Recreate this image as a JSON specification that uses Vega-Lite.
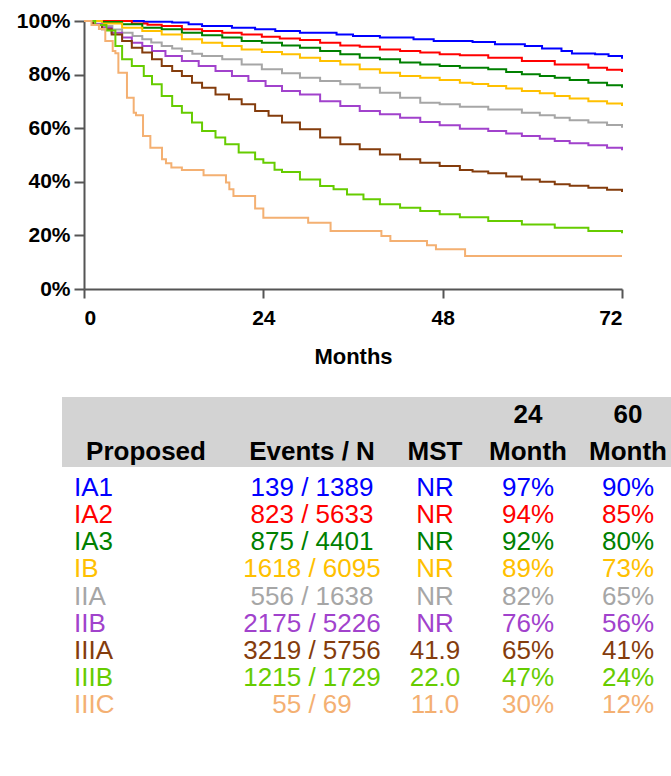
{
  "$schema": "https://vega.github.io/schema/vega-lite/v6.json",
  "padding": {"left": 16, "top": 10, "right": 0, "bottom": 0},
  "background": "white",
  "config": {"view": {"stroke": null}, "font": "Liberation Sans"},
  "datasets": {
    "km": [
      {"stage":"IA1","t":0,"s":100},{"stage":"IA1","t":6.4,"s":100},{"stage":"IA1","t":8,"s":99.7},{"stage":"IA1","t":11.8,"s":99.4},{"stage":"IA1","t":14,"s":98.8},{"stage":"IA1","t":15.8,"s":98.1},{"stage":"IA1","t":19.8,"s":97.5},{"stage":"IA1","t":22.9,"s":96.9},{"stage":"IA1","t":25.6,"s":96.3},{"stage":"IA1","t":28.9,"s":95.6},{"stage":"IA1","t":33.8,"s":95.0},{"stage":"IA1","t":36,"s":94.4},{"stage":"IA1","t":39.6,"s":93.8},{"stage":"IA1","t":44.1,"s":93.2},{"stage":"IA1","t":46.8,"s":92.5},{"stage":"IA1","t":52,"s":92.2},{"stage":"IA1","t":55,"s":91.3},{"stage":"IA1","t":59,"s":90.7},{"stage":"IA1","t":61.3,"s":89.7},{"stage":"IA1","t":63.9,"s":88.8},{"stage":"IA1","t":65.3,"s":87.9},{"stage":"IA1","t":68.4,"s":87.6},{"stage":"IA1","t":70.2,"s":86.9},{"stage":"IA1","t":72,"s":85.9},
      {"stage":"IA2","t":0,"s":100},{"stage":"IA2","t":3.7,"s":100},{"stage":"IA2","t":6.4,"s":99.1},{"stage":"IA2","t":8.5,"s":98.6},{"stage":"IA2","t":10.4,"s":98.1},{"stage":"IA2","t":13.1,"s":96.9},{"stage":"IA2","t":15.8,"s":96.3},{"stage":"IA2","t":18.5,"s":95.6},{"stage":"IA2","t":21.1,"s":95.0},{"stage":"IA2","t":23.8,"s":94.1},{"stage":"IA2","t":26.2,"s":93.5},{"stage":"IA2","t":28.9,"s":92.9},{"stage":"IA2","t":31.6,"s":91.9},{"stage":"IA2","t":34.3,"s":90.9},{"stage":"IA2","t":36.9,"s":90.4},{"stage":"IA2","t":39.6,"s":89.4},{"stage":"IA2","t":42.3,"s":88.8},{"stage":"IA2","t":45,"s":88.2},{"stage":"IA2","t":47.6,"s":87.6},{"stage":"IA2","t":50.3,"s":87.2},{"stage":"IA2","t":54.1,"s":86.3},{"stage":"IA2","t":58.6,"s":85.1},{"stage":"IA2","t":63,"s":83.8},{"stage":"IA2","t":67.5,"s":82.6},{"stage":"IA2","t":70,"s":81.8},{"stage":"IA2","t":72,"s":81.0},
      {"stage":"IA3","t":0,"s":100},{"stage":"IA3","t":2.4,"s":99.6},{"stage":"IA3","t":5.1,"s":98.8},{"stage":"IA3","t":7.8,"s":97.5},{"stage":"IA3","t":10.4,"s":96.9},{"stage":"IA3","t":13.1,"s":95.6},{"stage":"IA3","t":15.8,"s":94.7},{"stage":"IA3","t":18.5,"s":93.8},{"stage":"IA3","t":21.1,"s":92.5},{"stage":"IA3","t":23.8,"s":91.9},{"stage":"IA3","t":26.5,"s":90.9},{"stage":"IA3","t":28.9,"s":90.0},{"stage":"IA3","t":31.6,"s":88.8},{"stage":"IA3","t":34.3,"s":87.6},{"stage":"IA3","t":36.9,"s":86.3},{"stage":"IA3","t":39.6,"s":85.7},{"stage":"IA3","t":42.3,"s":84.5},{"stage":"IA3","t":45,"s":83.8},{"stage":"IA3","t":47.6,"s":83.2},{"stage":"IA3","t":50.3,"s":82.6},{"stage":"IA3","t":54.1,"s":82.0},{"stage":"IA3","t":56.5,"s":81.0},{"stage":"IA3","t":58.6,"s":80.1},{"stage":"IA3","t":61,"s":79.5},{"stage":"IA3","t":63,"s":78.8},{"stage":"IA3","t":65,"s":78.0},{"stage":"IA3","t":67.5,"s":77.0},{"stage":"IA3","t":70,"s":76.0},{"stage":"IA3","t":72,"s":75.1},
      {"stage":"IB","t":0,"s":100},{"stage":"IB","t":2.4,"s":99.1},{"stage":"IB","t":5.1,"s":97.5},{"stage":"IB","t":7.8,"s":96.3},{"stage":"IB","t":10.4,"s":95.0},{"stage":"IB","t":13.1,"s":93.2},{"stage":"IB","t":15.8,"s":91.9},{"stage":"IB","t":18.5,"s":90.7},{"stage":"IB","t":21.1,"s":89.4},{"stage":"IB","t":23.8,"s":88.4},{"stage":"IB","t":26.5,"s":87.6},{"stage":"IB","t":28.9,"s":86.3},{"stage":"IB","t":31.6,"s":85.1},{"stage":"IB","t":34.3,"s":83.8},{"stage":"IB","t":36.9,"s":82.0},{"stage":"IB","t":39.6,"s":80.7},{"stage":"IB","t":42.3,"s":79.5},{"stage":"IB","t":45,"s":78.8},{"stage":"IB","t":47.6,"s":78.0},{"stage":"IB","t":50.3,"s":77.0},{"stage":"IB","t":52,"s":76.5},{"stage":"IB","t":54.1,"s":75.7},{"stage":"IB","t":56.5,"s":74.8},{"stage":"IB","t":58.6,"s":73.9},{"stage":"IB","t":61,"s":73.0},{"stage":"IB","t":63,"s":72.0},{"stage":"IB","t":65,"s":71.1},{"stage":"IB","t":67.5,"s":70.1},{"stage":"IB","t":70,"s":69.2},{"stage":"IB","t":72,"s":68.3},
      {"stage":"IIA","t":0,"s":100},{"stage":"IIA","t":1.2,"s":99.0},{"stage":"IIA","t":2.4,"s":98.1},{"stage":"IIA","t":3.8,"s":96.8},{"stage":"IIA","t":5.1,"s":95.6},{"stage":"IIA","t":6.5,"s":94.4},{"stage":"IIA","t":7.8,"s":93.2},{"stage":"IIA","t":9,"s":92.0},{"stage":"IIA","t":10.4,"s":90.7},{"stage":"IIA","t":11.8,"s":89.7},{"stage":"IIA","t":13.1,"s":88.8},{"stage":"IIA","t":14.5,"s":87.8},{"stage":"IIA","t":15.8,"s":86.9},{"stage":"IIA","t":18.5,"s":85.7},{"stage":"IIA","t":21.1,"s":83.8},{"stage":"IIA","t":23.8,"s":82.0},{"stage":"IIA","t":26.5,"s":80.5},{"stage":"IIA","t":28.9,"s":78.8},{"stage":"IIA","t":31.6,"s":77.6},{"stage":"IIA","t":34.3,"s":76.4},{"stage":"IIA","t":36.9,"s":75.1},{"stage":"IIA","t":39.6,"s":73.2},{"stage":"IIA","t":42.3,"s":71.4},{"stage":"IIA","t":45,"s":69.5},{"stage":"IIA","t":47.6,"s":68.9},{"stage":"IIA","t":50.3,"s":68.0},{"stage":"IIA","t":54.1,"s":67.0},{"stage":"IIA","t":58.6,"s":65.8},{"stage":"IIA","t":61,"s":64.8},{"stage":"IIA","t":63,"s":63.9},{"stage":"IIA","t":65,"s":63.0},{"stage":"IIA","t":67.5,"s":62.1},{"stage":"IIA","t":70,"s":61.2},{"stage":"IIA","t":72,"s":60.2},
      {"stage":"IIB","t":0,"s":100},{"stage":"IIB","t":1.2,"s":98.8},{"stage":"IIB","t":2.4,"s":97.5},{"stage":"IIB","t":3.7,"s":95.6},{"stage":"IIB","t":5.1,"s":93.8},{"stage":"IIB","t":6.4,"s":91.9},{"stage":"IIB","t":7.8,"s":90.7},{"stage":"IIB","t":9.1,"s":88.8},{"stage":"IIB","t":10.9,"s":86.9},{"stage":"IIB","t":13.1,"s":85.1},{"stage":"IIB","t":15.35,"s":83.2},{"stage":"IIB","t":17.6,"s":81.3},{"stage":"IIB","t":19.8,"s":79.5},{"stage":"IIB","t":22,"s":77.6},{"stage":"IIB","t":24.3,"s":75.7},{"stage":"IIB","t":26.5,"s":73.9},{"stage":"IIB","t":28.9,"s":72.6},{"stage":"IIB","t":31.6,"s":70.1},{"stage":"IIB","t":34.3,"s":68.3},{"stage":"IIB","t":36.9,"s":66.4},{"stage":"IIB","t":39.6,"s":65.2},{"stage":"IIB","t":42.3,"s":63.9},{"stage":"IIB","t":45,"s":62.3},{"stage":"IIB","t":47.6,"s":61.1},{"stage":"IIB","t":50.3,"s":59.8},{"stage":"IIB","t":54.1,"s":59.0},{"stage":"IIB","t":56.5,"s":58.0},{"stage":"IIB","t":58.6,"s":57.1},{"stage":"IIB","t":61,"s":56.1},{"stage":"IIB","t":63,"s":55.2},{"stage":"IIB","t":65,"s":54.4},{"stage":"IIB","t":67.5,"s":53.6},{"stage":"IIB","t":70,"s":52.7},{"stage":"IIB","t":72,"s":51.8},
      {"stage":"IIIA","t":0,"s":100},{"stage":"IIIA","t":1.2,"s":98.5},{"stage":"IIIA","t":2.4,"s":96.9},{"stage":"IIIA","t":3.7,"s":95.0},{"stage":"IIIA","t":5.1,"s":92.5},{"stage":"IIIA","t":6.4,"s":90.0},{"stage":"IIIA","t":7.8,"s":88.2},{"stage":"IIIA","t":9.1,"s":85.7},{"stage":"IIIA","t":10.4,"s":83.2},{"stage":"IIIA","t":11.8,"s":81.3},{"stage":"IIIA","t":13.1,"s":79.5},{"stage":"IIIA","t":14.45,"s":77.0},{"stage":"IIIA","t":15.8,"s":75.1},{"stage":"IIIA","t":17.6,"s":72.6},{"stage":"IIIA","t":19.4,"s":70.8},{"stage":"IIIA","t":21.1,"s":68.9},{"stage":"IIIA","t":22.9,"s":66.4},{"stage":"IIIA","t":24.7,"s":64.6},{"stage":"IIIA","t":26.5,"s":62.1},{"stage":"IIIA","t":28.9,"s":59.6},{"stage":"IIIA","t":31.6,"s":56.5},{"stage":"IIIA","t":34.3,"s":54.0},{"stage":"IIIA","t":36.9,"s":52.1},{"stage":"IIIA","t":39.6,"s":50.2},{"stage":"IIIA","t":42.3,"s":48.4},{"stage":"IIIA","t":45,"s":47.1},{"stage":"IIIA","t":47.6,"s":45.9},{"stage":"IIIA","t":50.3,"s":44.4},{"stage":"IIIA","t":52,"s":43.8},{"stage":"IIIA","t":54.1,"s":43.2},{"stage":"IIIA","t":56.5,"s":42.0},{"stage":"IIIA","t":58.6,"s":40.9},{"stage":"IIIA","t":61,"s":40.0},{"stage":"IIIA","t":63,"s":39.1},{"stage":"IIIA","t":65,"s":38.5},{"stage":"IIIA","t":67.5,"s":37.8},{"stage":"IIIA","t":70,"s":37.0},{"stage":"IIIA","t":72,"s":36.2},
      {"stage":"IIIB","t":0,"s":100},{"stage":"IIIB","t":1.5,"s":98.5},{"stage":"IIIB","t":3,"s":96.5},{"stage":"IIIB","t":4.2,"s":90.7},{"stage":"IIIB","t":5.1,"s":85.7},{"stage":"IIIB","t":6.4,"s":83.2},{"stage":"IIIB","t":8,"s":79.5},{"stage":"IIIB","t":9.1,"s":76.4},{"stage":"IIIB","t":10.4,"s":72.0},{"stage":"IIIB","t":11.8,"s":68.3},{"stage":"IIIB","t":13.1,"s":65.8},{"stage":"IIIB","t":14.45,"s":62.1},{"stage":"IIIB","t":15.8,"s":59.0},{"stage":"IIIB","t":17.6,"s":56.5},{"stage":"IIIB","t":18.9,"s":54.0},{"stage":"IIIB","t":20.7,"s":50.9},{"stage":"IIIB","t":22.9,"s":48.4},{"stage":"IIIB","t":24,"s":47.1},{"stage":"IIIB","t":25.5,"s":44.5},{"stage":"IIIB","t":26.5,"s":43.7},{"stage":"IIIB","t":28.9,"s":40.9},{"stage":"IIIB","t":31.6,"s":38.4},{"stage":"IIIB","t":33.4,"s":37.2},{"stage":"IIIB","t":35.2,"s":35.3},{"stage":"IIIB","t":37.4,"s":33.5},{"stage":"IIIB","t":39.6,"s":31.6},{"stage":"IIIB","t":42.3,"s":30.3},{"stage":"IIIB","t":45,"s":29.1},{"stage":"IIIB","t":47.6,"s":27.9},{"stage":"IIIB","t":50.3,"s":26.8},{"stage":"IIIB","t":54.1,"s":25.4},{"stage":"IIIB","t":58.6,"s":24.1},{"stage":"IIIB","t":63,"s":22.9},{"stage":"IIIB","t":67.5,"s":21.6},{"stage":"IIIB","t":72,"s":20.8},
      {"stage":"IIIC","t":0,"s":100},{"stage":"IIIC","t":1,"s":98.5},{"stage":"IIIC","t":2,"s":97.0},{"stage":"IIIC","t":2.85,"s":92.5},{"stage":"IIIC","t":3.84,"s":88.8},{"stage":"IIIC","t":4.2,"s":88.0},{"stage":"IIIC","t":4.6,"s":80.7},{"stage":"IIIC","t":5.75,"s":71.4},{"stage":"IIIC","t":6.65,"s":65.8},{"stage":"IIIC","t":6.96,"s":64.8},{"stage":"IIIC","t":7.9,"s":57.1},{"stage":"IIIC","t":8.88,"s":52.7},{"stage":"IIIC","t":10.44,"s":48.4},{"stage":"IIIC","t":10.97,"s":46.9},{"stage":"IIIC","t":11.69,"s":45.3},{"stage":"IIIC","t":13.1,"s":44.4},{"stage":"IIIC","t":16.0,"s":42.4},{"stage":"IIIC","t":19.0,"s":39.7},{"stage":"IIIC","t":19.45,"s":37.2},{"stage":"IIIC","t":20.0,"s":34.7},{"stage":"IIIC","t":22.9,"s":30.0},{"stage":"IIIC","t":24.0,"s":26.6},{"stage":"IIIC","t":30.0,"s":24.7},{"stage":"IIIC","t":33.0,"s":21.6},{"stage":"IIIC","t":39.8,"s":19.8},{"stage":"IIIC","t":41.0,"s":17.9},{"stage":"IIIC","t":45.9,"s":16.3},{"stage":"IIIC","t":47.1,"s":14.8},{"stage":"IIIC","t":51.0,"s":12.3},{"stage":"IIIC","t":72,"s":12.3}
    ],
    "table": [
      {"stage":"IA1","events":"139 / 1389","mst":"NR","m24":"97%","m60":"90%"},
      {"stage":"IA2","events":"823 / 5633","mst":"NR","m24":"94%","m60":"85%"},
      {"stage":"IA3","events":"875 / 4401","mst":"NR","m24":"92%","m60":"80%"},
      {"stage":"IB","events":"1618 / 6095","mst":"NR","m24":"89%","m60":"73%"},
      {"stage":"IIA","events":"556 / 1638","mst":"NR","m24":"82%","m60":"65%"},
      {"stage":"IIB","events":"2175 / 5226","mst":"NR","m24":"76%","m60":"56%"},
      {"stage":"IIIA","events":"3219 / 5756","mst":"41.9","m24":"65%","m60":"41%"},
      {"stage":"IIIB","events":"1215 / 1729","mst":"22.0","m24":"47%","m60":"24%"},
      {"stage":"IIIC","events":"55 / 69","mst":"11.0","m24":"30%","m60":"12%"}
    ],
    "header": [
      {"col":"Proposed","line":2,"label":"Proposed"},
      {"col":"Events","line":2,"label":"Events / N"},
      {"col":"MST","line":2,"label":"MST"},
      {"col":"M24","line":1,"label":"24"},
      {"col":"M24","line":2,"label":"Month"},
      {"col":"M60","line":1,"label":"60"},
      {"col":"M60","line":2,"label":"Month"}
    ]
  },
  "spacing": 30,
  "vconcat": [
    {
      "spacing": 0,
      "bounds": "flush",
      "hconcat": [
        {"width": 22, "height": 10, "data": {"values": []}, "mark": {"type": "rect"}, "encoding": {}},
        {
          "width": 538,
          "height": 268,
          "data": {"name": "km"},
          "mark": {"type": "line", "interpolate": "step-after", "strokeWidth": 2},
          "encoding": {
            "x": {"field": "t", "type": "quantitative", "scale": {"domain": [0, 72], "nice": false},
              "axis": {"values": [0, 24, 48, 72], "title": "Months", "grid": false, "labelFontSize": 21, "labelFontWeight": "bold", "labelColor": "black", "tickSize": 9, "tickWidth": 2, "tickColor": "#555555", "domainColor": "#555555", "domainWidth": 2, "labelPadding": 9, "titleFontSize": 22, "titleFontWeight": "bold", "titleColor": "black", "titlePadding": 18}},
            "y": {"field": "s", "type": "quantitative", "scale": {"domain": [0, 100], "nice": false},
              "axis": {"values": [0, 20, 40, 60, 80, 100], "labelExpr": "datum.value + '%'", "title": null, "grid": false, "labelFontSize": 21, "labelFontWeight": "bold", "labelColor": "black", "tickSize": 10, "tickWidth": 2, "tickColor": "#555555", "domainColor": "#555555", "domainWidth": 2, "labelPadding": 4}},
            "color": {"field": "stage", "type": "nominal", "legend": null,
              "scale": {"domain": ["IA1","IA2","IA3","IB","IIA","IIB","IIIA","IIIB","IIIC"], "range": ["#0000FF","#FF0000","#008000","#FFC000","#A6A6A6","#A142CC","#843C0C","#66CC00","#F4B072"]}}
          }
        }
      ]
    },
    {
      "spacing": 0,
      "vconcat": [
        {
          "spacing": 0,
          "hconcat": [
            {"width": 168, "height": 70, "view": {"fill": "#D3D3D3", "stroke": null}, "data": {"name": "header"}, "transform": [{"filter": "datum.col === 'Proposed'"}],
              "mark": {"type": "text", "fontSize": 26, "fontWeight": "bold", "color": "black"},
              "encoding": {"y": {"field": "line", "type": "ordinal", "scale": {"type": "point", "domain": [1, 2], "padding": 0.46, "align": 0.55}, "axis": null}, "text": {"field": "label"}}},
            {"width": 164, "height": 70, "view": {"fill": "#D3D3D3", "stroke": null}, "data": {"name": "header"}, "transform": [{"filter": "datum.col === 'Events'"}],
              "mark": {"type": "text", "fontSize": 26, "fontWeight": "bold", "color": "black"},
              "encoding": {"y": {"field": "line", "type": "ordinal", "scale": {"type": "point", "domain": [1, 2], "padding": 0.46, "align": 0.55}, "axis": null}, "text": {"field": "label"}}},
            {"width": 82, "height": 70, "view": {"fill": "#D3D3D3", "stroke": null}, "data": {"name": "header"}, "transform": [{"filter": "datum.col === 'MST'"}],
              "mark": {"type": "text", "fontSize": 26, "fontWeight": "bold", "color": "black"},
              "encoding": {"y": {"field": "line", "type": "ordinal", "scale": {"type": "point", "domain": [1, 2], "padding": 0.46, "align": 0.55}, "axis": null}, "text": {"field": "label"}}},
            {"width": 104, "height": 70, "view": {"fill": "#D3D3D3", "stroke": null}, "data": {"name": "header"}, "transform": [{"filter": "datum.col === 'M24'"}],
              "mark": {"type": "text", "fontSize": 26, "fontWeight": "bold", "color": "black"},
              "encoding": {"y": {"field": "line", "type": "ordinal", "scale": {"type": "point", "domain": [1, 2], "padding": 0.46, "align": 0.55}, "axis": null}, "text": {"field": "label"}}},
            {"width": 96, "height": 70, "view": {"fill": "#D3D3D3", "stroke": null}, "data": {"name": "header"}, "transform": [{"filter": "datum.col === 'M60'"}],
              "mark": {"type": "text", "fontSize": 26, "fontWeight": "bold", "color": "black"},
              "encoding": {"y": {"field": "line", "type": "ordinal", "scale": {"type": "point", "domain": [1, 2], "padding": 0.46, "align": 0.55}, "axis": null}, "text": {"field": "label"}}}
          ]
        },
        {
          "spacing": 0,
          "hconcat": [
            {"width": 168, "height": 259, "data": {"name": "table"},
              "mark": {"type": "text", "fontSize": 26, "align": "left", "x": 0, "dx": 12},
              "encoding": {"y": {"field": "stage", "type": "ordinal", "scale": {"type": "point", "padding": 0.775, "domain": ["IA1","IA2","IA3","IB","IIA","IIB","IIIA","IIIB","IIIC"]}, "axis": null}, "text": {"field": "stage"},
                "color": {"field": "stage", "type": "nominal", "legend": null, "scale": {"domain": ["IA1","IA2","IA3","IB","IIA","IIB","IIIA","IIIB","IIIC"], "range": ["#0000FF","#FF0000","#008000","#FFC000","#A6A6A6","#A142CC","#843C0C","#66CC00","#F4B072"]}}}},
            {"width": 164, "height": 259, "data": {"name": "table"},
              "mark": {"type": "text", "fontSize": 26},
              "encoding": {"y": {"field": "stage", "type": "ordinal", "scale": {"type": "point", "padding": 0.775, "domain": ["IA1","IA2","IA3","IB","IIA","IIB","IIIA","IIIB","IIIC"]}, "axis": null}, "text": {"field": "events"},
                "color": {"field": "stage", "type": "nominal", "legend": null, "scale": {"domain": ["IA1","IA2","IA3","IB","IIA","IIB","IIIA","IIIB","IIIC"], "range": ["#0000FF","#FF0000","#008000","#FFC000","#A6A6A6","#A142CC","#843C0C","#66CC00","#F4B072"]}}}},
            {"width": 82, "height": 259, "data": {"name": "table"},
              "mark": {"type": "text", "fontSize": 26},
              "encoding": {"y": {"field": "stage", "type": "ordinal", "scale": {"type": "point", "padding": 0.775, "domain": ["IA1","IA2","IA3","IB","IIA","IIB","IIIA","IIIB","IIIC"]}, "axis": null}, "text": {"field": "mst"},
                "color": {"field": "stage", "type": "nominal", "legend": null, "scale": {"domain": ["IA1","IA2","IA3","IB","IIA","IIB","IIIA","IIIB","IIIC"], "range": ["#0000FF","#FF0000","#008000","#FFC000","#A6A6A6","#A142CC","#843C0C","#66CC00","#F4B072"]}}}},
            {"width": 104, "height": 259, "data": {"name": "table"},
              "mark": {"type": "text", "fontSize": 26},
              "encoding": {"y": {"field": "stage", "type": "ordinal", "scale": {"type": "point", "padding": 0.775, "domain": ["IA1","IA2","IA3","IB","IIA","IIB","IIIA","IIIB","IIIC"]}, "axis": null}, "text": {"field": "m24"},
                "color": {"field": "stage", "type": "nominal", "legend": null, "scale": {"domain": ["IA1","IA2","IA3","IB","IIA","IIB","IIIA","IIIB","IIIC"], "range": ["#0000FF","#FF0000","#008000","#FFC000","#A6A6A6","#A142CC","#843C0C","#66CC00","#F4B072"]}}}},
            {"width": 96, "height": 259, "data": {"name": "table"},
              "mark": {"type": "text", "fontSize": 26},
              "encoding": {"y": {"field": "stage", "type": "ordinal", "scale": {"type": "point", "padding": 0.775, "domain": ["IA1","IA2","IA3","IB","IIA","IIB","IIIA","IIIB","IIIC"]}, "axis": null}, "text": {"field": "m60"},
                "color": {"field": "stage", "type": "nominal", "legend": null, "scale": {"domain": ["IA1","IA2","IA3","IB","IIA","IIB","IIIA","IIIB","IIIC"], "range": ["#0000FF","#FF0000","#008000","#FFC000","#A6A6A6","#A142CC","#843C0C","#66CC00","#F4B072"]}}}}
          ]
        }
      ]
    }
  ]
}
